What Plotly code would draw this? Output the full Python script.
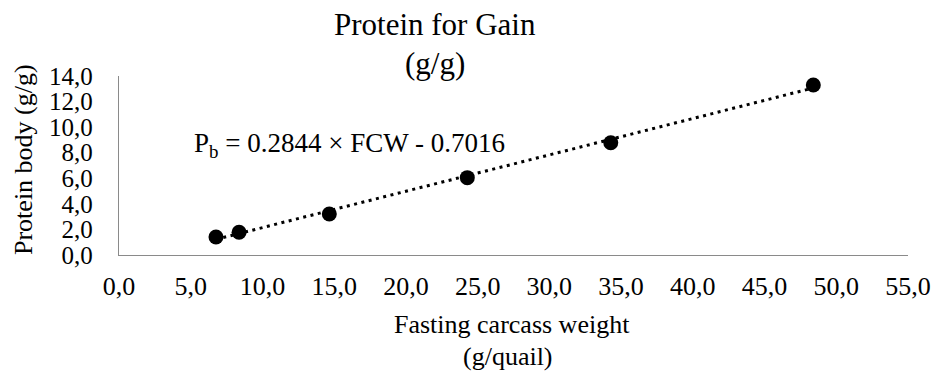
import plotly.graph_objects as go

# Data
fcw = [6.76, 8.37, 14.66, 24.28, 34.28, 48.40]          # Fasting carcass weight (g/quail)
protein = [1.41, 1.78, 3.21, 6.05, 8.78, 13.30]         # Protein body (g/g)
slope = 0.2844
intercept = -0.7016
x_ticks = [0, 5, 10, 15, 20, 25, 30, 35, 40, 45, 50, 55]
y_ticks = [0, 2, 4, 6, 8, 10, 12, 14]

FONT = "Liberation Serif, Times New Roman, serif"

trend_x = [min(fcw), max(fcw)]
trend_y = [slope * v + intercept for v in trend_x]

fig = go.Figure()
fig.add_trace(go.Scatter(
    x=trend_x, y=trend_y, mode="lines",
    line=dict(color="black", width=3, dash="3px,4.5px"),
    hoverinfo="skip", showlegend=False))
fig.add_trace(go.Scatter(
    x=fcw, y=protein, mode="markers",
    marker=dict(color="black", size=15),
    showlegend=False))

W, H = 934, 372
L, R, T, B = 119, 26, 76, 117
pw, ph = W - L - R, H - T - B

def px(xp):
    return (xp - L) / pw

def py(yp):
    return (H - B - yp) / ph

annotations = [
    dict(text="Protein for Gain", x=px(435), y=py(24), xref="paper", yref="paper",
         xanchor="center", yanchor="middle", showarrow=False,
         font=dict(family=FONT, size=31, color="black")),
    dict(text="(g/g)", x=px(435), y=py(63), xref="paper", yref="paper",
         xanchor="center", yanchor="middle", showarrow=False,
         font=dict(family=FONT, size=31, color="black")),
    dict(text="Fasting carcass weight", x=px(512), y=py(324), xref="paper", yref="paper",
         xanchor="center", yanchor="middle", showarrow=False,
         font=dict(family=FONT, size=26, color="black")),
    dict(text="(g/quail)", x=px(508), y=py(356), xref="paper", yref="paper",
         xanchor="center", yanchor="middle", showarrow=False,
         font=dict(family=FONT, size=26, color="black")),
    dict(text="Protein body (g/g)", x=px(23), y=py(160), xref="paper", yref="paper",
         xanchor="center", yanchor="middle", showarrow=False, textangle=-90,
         font=dict(family=FONT, size=26, color="black")),
    dict(text="P<sub>b</sub> = 0.2844 × FCW - 0.7016", x=px(192), y=py(145),
         xref="paper", yref="paper", xanchor="left", yanchor="middle", showarrow=False,
         font=dict(family=FONT, size=27, color="black")),
]

fig.update_layout(
    width=W, height=H,
    margin=dict(l=L, r=R, t=T, b=B, autoexpand=False),
    paper_bgcolor="white", plot_bgcolor="white",
    separators=", ",
    font=dict(family=FONT, size=26, color="black"),
    annotations=annotations,
    showlegend=False,
)
fig.update_xaxes(
    range=[0, 55], tickvals=x_ticks, tickformat=".1f", automargin=False,
    showgrid=False, zeroline=False,
    showline=True, linecolor="#8a8a8a", linewidth=1.3,
    ticks="", ticklabelstandoff=8,
    tickfont=dict(family=FONT, size=26, color="black"),
)
fig.update_yaxes(
    range=[0, 14], tickvals=y_ticks, tickformat=".1f", automargin=False,
    showgrid=False, zeroline=False,
    showline=True, linecolor="#8a8a8a", linewidth=1.3,
    ticks="", ticklabelstandoff=20,
    tickfont=dict(family=FONT, size=25, color="black"),
)

fig.write_html(
    "out.html",
    config={"displayModeBar": False},
    post_script="document.body.style.margin='0';document.body.style.padding='0';"
                "document.body.style.overflow='hidden';",
)
